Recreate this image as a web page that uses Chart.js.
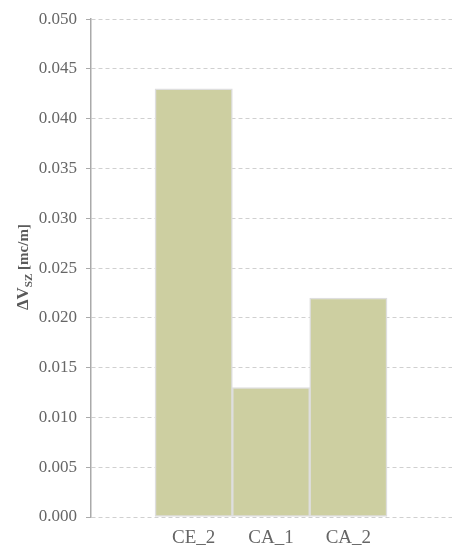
<!DOCTYPE html>
<html>
<head>
<meta charset="utf-8">
<script src="https://cdn.jsdelivr.net/npm/chart.js@4.4.1/dist/chart.umd.min.js"></script>
<style>
  html, body { margin: 0; padding: 0; background: #ffffff; }
  #wrap { width: 457px; height: 550px; position: relative; }
</style>
</head>
<body>
<div id="wrap"><canvas id="c" width="457" height="550"></canvas></div>
<script>
// ---- data ----
const categories = ['CE_2', 'CA_1', 'CA_2'];
const positions = [1, 2, 3];
const values = [0.043, 0.013, 0.022];
const yTicks = [0, 0.005, 0.010, 0.015, 0.020, 0.025, 0.030, 0.035, 0.040, 0.045, 0.050];

const titleParts = { main: 'ΔV', sub: 'SZ', rest: ' [mc/m]' };

const points = positions.map((p, i) => ({ x: p, y: values[i] }));

const yTitlePlugin = {
  id: 'yTitle',
  afterDraw(chart) {
    const ctx = chart.ctx;
    const cy = (chart.chartArea.top + chart.chartArea.bottom) / 2 - 1;
    ctx.save();
    ctx.translate(28, cy);
    ctx.rotate(-Math.PI / 2);
    ctx.fillStyle = '#5a5a5a';
    ctx.textBaseline = 'alphabetic';
    const fMain = 'bold 17px "Liberation Serif", "Times New Roman", serif';
    const fSub = 'bold 11px "Liberation Serif", "Times New Roman", serif';
    const fRest = 'bold 15px "Liberation Serif", "Times New Roman", serif';
    ctx.font = fMain; const w1 = ctx.measureText(titleParts.main).width;
    ctx.font = fSub; const w2 = ctx.measureText(titleParts.sub).width;
    ctx.font = fRest; const w3 = ctx.measureText(titleParts.rest).width;
    let x = -(w1 + w2 + w3) / 2;
    ctx.font = fMain; ctx.fillText(titleParts.main, x, 0); x += w1;
    ctx.font = fSub; ctx.fillText(titleParts.sub, x, 4); x += w2;
    ctx.font = fRest; ctx.fillText(titleParts.rest, x, 0);
    ctx.restore();
  }
};

new Chart(document.getElementById('c'), {
  type: 'bar',
  data: {
    datasets: [{
      data: points,
      backgroundColor: 'rgb(205,207,161)',
      borderColor: 'rgb(222,222,222)',
      borderWidth: 1.5,
      borderSkipped: false,
      barPercentage: 1,
      categoryPercentage: 1
    }]
  },
  options: {
    responsive: false,
    animation: false,
    devicePixelRatio: 1,
    layout: { padding: { left: 0, right: 5, top: 14, bottom: 0 } },
    plugins: { legend: { display: false }, tooltip: { enabled: false } },
    scales: {
      x: {
        type: 'linear',
        offset: false,
        min: -0.328,
        max: 4.34,
        afterBuildTicks(scale) { scale.ticks = positions.map(v => ({ value: v })); },
        afterFit(scale) { scale.height = 33; },
        grid: { display: false, drawTicks: false, offset: false },
        border: { display: false },
        ticks: {
          padding: 10,
          color: '#666666',
          font: { family: '"Liberation Serif", "Times New Roman", serif', size: 19 },
          callback: (v) => categories[positions.indexOf(v)] ?? ''
        }
      },
      y: {
        min: 0,
        max: 0.05,
        afterBuildTicks(scale) { scale.ticks = yTicks.map(v => ({ value: v })); },
        afterFit(scale) { scale.width = 91; },
        grid: { color: '#d0d0d0', lineWidth: 1, tickLength: 5, tickColor: '#aaaaaa' },
        border: { display: true, color: '#aaaaaa', width: 1.5, dash: [4, 3] },
        ticks: {
          padding: 9,
          color: '#666666',
          font: { family: '"Liberation Serif", "Times New Roman", serif', size: 17 },
          callback: (v) => Number(v).toFixed(3)
        }
      }
    }
  },
  plugins: [yTitlePlugin]
});
</script>
</body>
</html>
